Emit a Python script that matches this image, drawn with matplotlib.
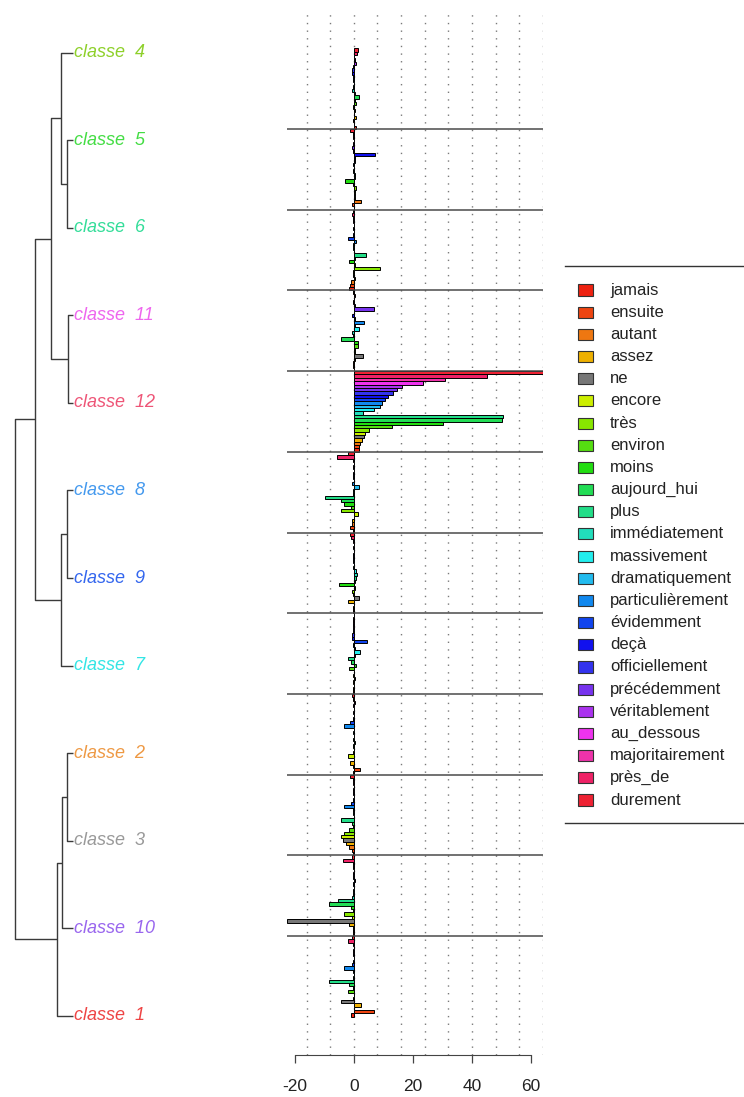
"""Rainette 聚类树与各类别副词卡方值条形图。"""

from __future__ import annotations

import matplotlib

matplotlib.use("Agg")
import matplotlib.pyplot as plt
from matplotlib.patches import Rectangle

plt.rcParams["font.family"] = ["Liberation Sans", "DejaVu Sans"]

FIG_W, FIG_H = 744, 1097

WORDS = [
    "jamais", "ensuite", "autant", "assez", "ne", "encore", "très", "environ",
    "moins", "aujourd_hui", "plus", "immédiatement", "massivement",
    "dramatiquement", "particulièrement", "évidemment", "deçà",
    "officiellement", "précédemment", "véritablement", "au_dessous",
    "majoritairement", "près_de", "durement",
]
WORD_COLORS = [
    "#ee2211", "#ee4411", "#ee7711", "#eeb000", "#777777", "#ccee00",
    "#88e600", "#55dd11", "#22dd11", "#22dd55", "#22dd88", "#22ddbb",
    "#22eeee", "#22bbee", "#1188ee", "#1144ee", "#1111ee", "#3333ee",
    "#7733ee", "#aa33ee", "#ee33ee", "#ee33aa", "#ee2266", "#ee2233",
]

# 聚类树叶子从上到下的顺序
CLASS_ORDER = [4, 5, 6, 11, 12, 8, 9, 7, 2, 3, 10, 1]
CLASS_COLORS = {
    1: "#ee4444", 2: "#ee9944", 3: "#999999", 4: "#8ed02a",
    5: "#44dd44", 6: "#33dd99", 7: "#33e5e5", 8: "#4499ee",
    9: "#3366ee", 10: "#9966ee", 11: "#ee66ee", 12: "#ee5577",
}

# 每个类别的卡方值，顺序与 WORDS 相同
CHI2_CLASSE_4 = [0.8, 0.2, -0.2, 0.8, 0.2, 0.3, -0.2, 0.9, 0.3, 1.8, 0.4, -0.5,
                 -0.4, 0.2, -0.2, -0.3, -0.6, -0.5, -0.4, 0.9, 0.3, 0.2, 1.0, 1.5]
CHI2_CLASSE_5 = [0.2, -0.5, 2.4, 0.3, 0.3, 0.3, 0.8, -0.3, -3.0, 0.5, 0.5, -0.3,
                 0.2, -0.2, 0.3, 0.5, 7.3, -0.4, -0.5, -0.2, 0.2, -0.3, -0.3, -1.3]
CHI2_CLASSE_6 = [-1.6, -1.3, -0.8, 0.3, -0.2, -0.3, 8.8, 0.4, -1.5, 0.3, 4.1, 0.2,
                 -0.2, -0.3, 0.9, -2.1, -0.3, 0.2, -0.2, 0.2, -0.2, -0.3, -0.6, -0.4]
CHI2_CLASSE_11 = [0.2, -0.3, -0.4, 0.3, 3.2, 0.4, 0.5, 1.3, 1.5, -4.4, -0.3, -0.5,
                  1.8, 0.3, 3.5, 0.3, -0.5, 0.2, 6.9, 0.3, -0.2, 0.2, 0.3, -0.2]
CHI2_CLASSE_12 = [1.8, 1.8, 2.0, 2.9, 3.4, 3.7, 5.2, 12.8, 30.3, 50.0, 50.5, 3.2,
                  6.9, 8.8, 9.4, 10.5, 11.6, 13.3, 14.7, 16.2, 23.3, 30.8, 45.0, 64.0]
CHI2_CLASSE_8 = [-0.4, -1.2, -0.5, -0.6, 0.2, 1.5, -4.4, -0.8, -3.4, -4.5, -9.8, -0.3,
                 -0.3, 1.8, -0.5, 0.2, -0.3, -0.2, 0.2, -0.2, 0.2, -0.3, -5.6, -1.9]
CHI2_CLASSE_9 = [-0.3, -0.2, 0.2, -1.9, 1.8, -0.3, -0.6, 0.3, -5.0, 0.3, 0.8, 1.2,
                 0.6, -0.2, 0.2, -0.3, -0.4, -0.2, 0.2, -0.2, 0.2, -0.2, -0.8, -1.2]
CHI2_CLASSE_7 = [-0.4, -0.3, 0.2, -0.2, 0.3, -0.2, 0.2, -1.5, 0.7, -1.0, -2.0, 0.3,
                 2.0, 0.3, -0.2, 4.5, -0.5, -0.6, -0.4, -0.2, -0.3, -0.3, -0.2, 0.2]
CHI2_CLASSE_2 = [-0.3, 2.0, -0.3, -1.3, 0.2, -2.1, -0.3, 0.2, -0.2, 0.3, -0.3, 0.2,
                 -0.2, 0.2, -3.3, -1.3, -0.3, 0.2, -0.2, 0.2, -0.2, 0.3, -0.4, -0.5]
CHI2_CLASSE_3 = [-0.3, -0.5, -1.7, -2.5, -3.6, -4.2, -3.3, -1.5, -0.3, -0.5, -4.2, 0.2,
                 -0.4, -0.2, -3.3, -0.8, -0.2, 0.2, -0.3, -0.2, 0.2, -0.2, -0.3, -1.2]
CHI2_CLASSE_10 = [-0.3, -0.2, -0.4, -1.5, -22.6, -0.5, -3.3, -0.4, -1.0, -8.4, -5.3, -0.5,
                  -0.2, -0.2, 0.2, -0.3, 0.5, -0.2, -0.3, 0.2, -0.2, -0.3, -3.8, -0.6]
CHI2_CLASSE_1 = [-1.0, 6.9, 0.2, 2.3, -4.5, -0.3, 0.2, -1.8, -0.3, -1.7, -8.4, -0.3,
                 0.2, -0.2, -3.3, -0.5, -0.2, 0.2, -0.3, -0.2, 0.2, -0.2, -2.0, -0.5]

CHI2_BY_CLASS = {
    1: CHI2_CLASSE_1, 2: CHI2_CLASSE_2, 3: CHI2_CLASSE_3, 4: CHI2_CLASSE_4,
    5: CHI2_CLASSE_5, 6: CHI2_CLASSE_6, 7: CHI2_CLASSE_7, 8: CHI2_CLASSE_8,
    9: CHI2_CLASSE_9, 10: CHI2_CLASSE_10, 11: CHI2_CLASSE_11, 12: CHI2_CLASSE_12,
}

# 聚类树合并：(子节点 a, 子节点 b, 高度)，"m{k}" 表示第 k 次合并
DENDRO_MERGES = [
    ("c5", "c6", 6.0),
    ("c4", "m0", 12.0),
    ("c11", "c12", 5.3),
    ("m1", "m2", 22.0),
    ("c8", "c9", 6.0),
    ("m4", "c7", 12.0),
    ("m3", "m5", 38.0),
    ("c2", "c3", 6.0),
    ("m7", "c10", 11.5),
    ("m8", "c1", 16.0),
    ("m6", "m9", 58.5),
]

X_TICKS = [-20, 0, 20, 40, 60]


def px_rect(left, top, right, bottom):
    """把像素框转换为 figure 坐标。"""
    return [left / FIG_W, 1 - bottom / FIG_H, (right - left) / FIG_W, (bottom - top) / FIG_H]


def draw_dendrogram(fig):
    """绘制左侧聚类树和类别标签。"""
    ax = fig.add_axes(px_rect(0, 0, 280, FIG_H))
    ax.set_xlim(73, -207)
    ax.set_ylim(11.928, -0.602)
    ax.axis("off")

    pos = {f"c{c}": (float(i), 0.0) for i, c in enumerate(CLASS_ORDER)}
    for k, (a, b, h) in enumerate(DENDRO_MERGES):
        ya, ha = pos[a]
        yb, hb = pos[b]
        ax.plot([ha, h, h, hb], [ya, ya, yb, yb], color="#3a3a3a", lw=1.0,
                solid_capstyle="butt")
        pos[f"m{k}"] = ((ya + yb) / 2, h)

    for i, c in enumerate(CLASS_ORDER):
        ax.text(-1, i, f"classe  {c}", color=CLASS_COLORS[c], style="italic",
                fontsize=13, ha="left", va="center")


def draw_bars(fig):
    """按类别分块绘制各副词的卡方值条形图。"""
    ax = fig.add_axes(px_rect(287, 10, 543, 1055))
    n = len(WORDS)
    all_values = [v for c in CLASS_ORDER for v in CHI2_BY_CLASS[c]]
    ax.set_xlim(min(all_values), max(all_values))
    n_total = n * len(CLASS_ORDER)
    ax.set_ylim(n_total + 11.39, -11.39)

    # 与 R 的 grid() 类似的点线
    for x in range(-16, 65, 8):
        ax.axvline(x, color="#7a7a7a", lw=1.0, ls=(0, (1, 4.5)), zorder=0)

    for k, c in enumerate(CLASS_ORDER):
        values = CHI2_BY_CLASS[c]
        assert len(values) == n
        # 列表最后一个词画在每个分块的最上方
        ys = [k * n + (n - 1 - i) + 0.5 for i in range(n)]
        ax.barh(ys, values, height=1.0, color=WORD_COLORS, edgecolor="black",
                linewidth=0.7, zorder=2)
        if k > 0:
            ax.axhline(k * n, color="#4a4a4a", lw=1.1, zorder=3)

    for side in ("top", "left", "right"):
        ax.spines[side].set_visible(False)
    ax.spines["bottom"].set_bounds(X_TICKS[0], X_TICKS[-1])
    ax.spines["bottom"].set_color("#444444")
    ax.set_xticks(X_TICKS)
    ax.set_xticklabels([str(t) for t in X_TICKS])
    ax.set_yticks([])
    ax.tick_params(axis="x", length=5.5, width=0.9, color="#444444", pad=12,
                   labelsize=12.5, labelcolor="#222222")


def draw_legend(fig):
    """绘制右侧图例。"""
    ax = fig.add_axes(px_rect(565, 266, FIG_W, 823))
    ax.set_xlim(0, 179)
    ax.set_ylim(24.537, -0.583)
    for i, (word, color) in enumerate(zip(WORDS, WORD_COLORS)):
        ax.add_patch(Rectangle((13, i + 0.25), 15, 0.5, facecolor=color,
                               edgecolor="#333333", lw=0.8))
        ax.text(45, i + 0.5, word, fontsize=12, color="#222222", va="center")
    for side in ("left", "right"):
        ax.spines[side].set_visible(False)
    for side in ("top", "bottom"):
        ax.spines[side].set_color("#333333")
        ax.spines[side].set_linewidth(1.0)
    ax.set_xticks([])
    ax.set_yticks([])


fig = plt.figure(figsize=(FIG_W / 100, FIG_H / 100), dpi=100)
draw_dendrogram(fig)
draw_bars(fig)
draw_legend(fig)
fig.savefig("out.png", dpi=100)
plt.close(fig)
